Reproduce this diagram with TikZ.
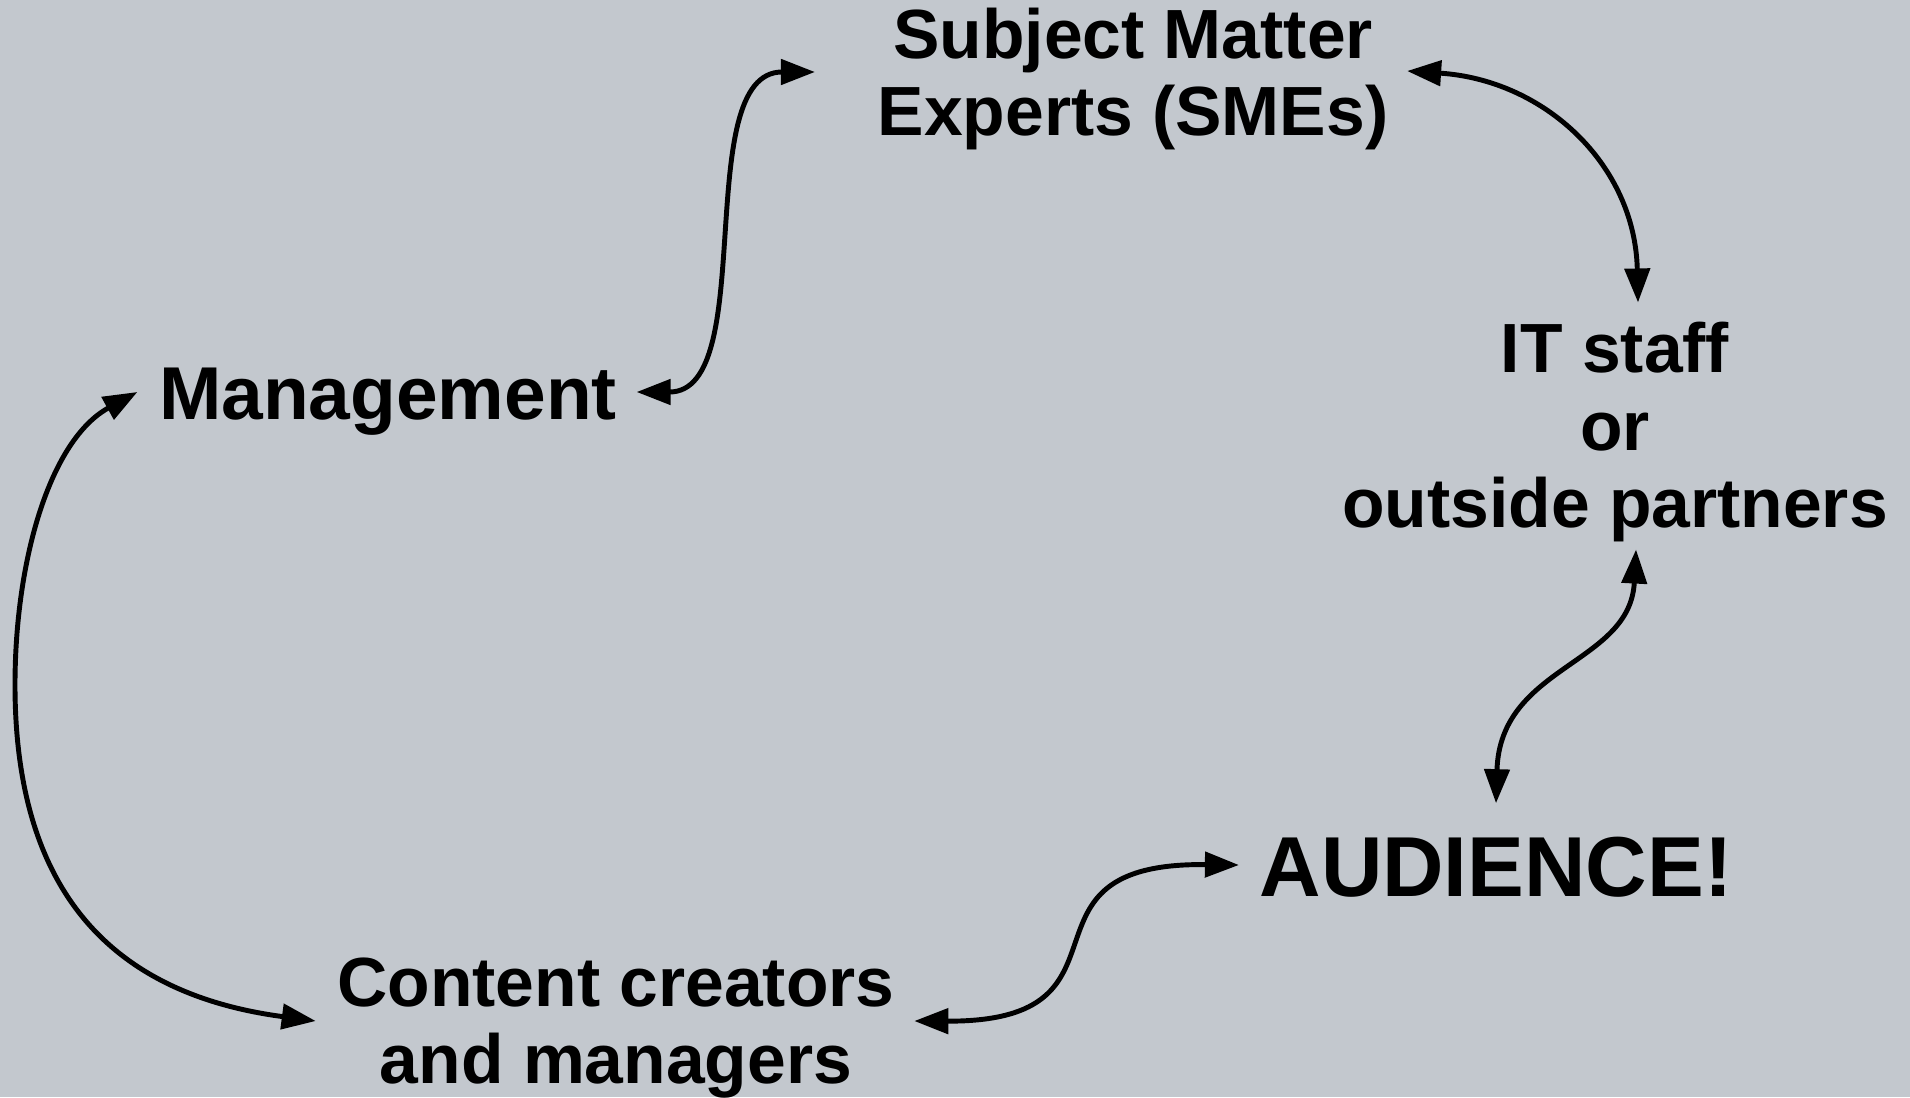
\documentclass[tikz,border=0pt]{standalone}
\usepackage{fontspec}
\setmainfont{Liberation Sans}
\usetikzlibrary{arrows.meta}
\definecolor{slate}{RGB}{195,200,206}

\begin{document}
\begin{tikzpicture}[> = {Triangle[length=3.4mm, width=2.5mm]}, x = 0.01 cm, y = -0.01 cm,
	party/.style = {font = \bfseries\fontsize{19.8}{22}\selectfont, align = center, inner sep = 0 pt},
	link/.style = {<->, line width = 1.4 pt}]

% The backdrop

\fill [slate] (0, 0) rectangle (1910, 1097);
\useasboundingbox (0, 0) rectangle (1910, 1097);

% The parties

\node [party] (sme) at (1133, 79) {Subject Matter\\Experts (SMEs)};
\node [party, font = \bfseries\fontsize{21.3}{24}\selectfont] (mgmt) at (388, 402) {Management};
\node [party] (it) at (1615, 432) {IT staff\\or\\outside partners};
\node [party, font = \bfseries\fontsize{24.2}{27}\selectfont] (aud) at (1496, 867) {AUDIENCE!};
\node [party] (cc) at (616, 1028) {Content creators\\and managers};

% The links

\draw [link] ([shift = {(19, -10)}] mgmt.east) .. controls (760, 392) and (690, 72) .. ([shift = {(-62, -7)}] sme.west);
\draw [link] ([shift = {(18, -8)}] sme.east) .. controls (1545, 80) and (1635, 165) .. ([shift = {(23, -19)}] it.north);
\draw [link] ([shift = {(21, 7)}] it.south) .. controls (1630, 665) and (1500, 665) .. ([shift = {(0, -33)}] aud.north);
\draw [link] ([shift = {(-20, -2)}] aud.west) .. controls (1000, 862) and (1150, 1022) .. ([shift = {(19, -7)}] cc.east);
\draw [link] ([shift = {(-21, -10)}] mgmt.west) .. controls (50, 440) and (15, 560) .. (15, 685)
	.. controls (15, 900) and (120, 995) .. ([shift = {(-21, -7)}] cc.west);

\end{tikzpicture}
\end{document}
